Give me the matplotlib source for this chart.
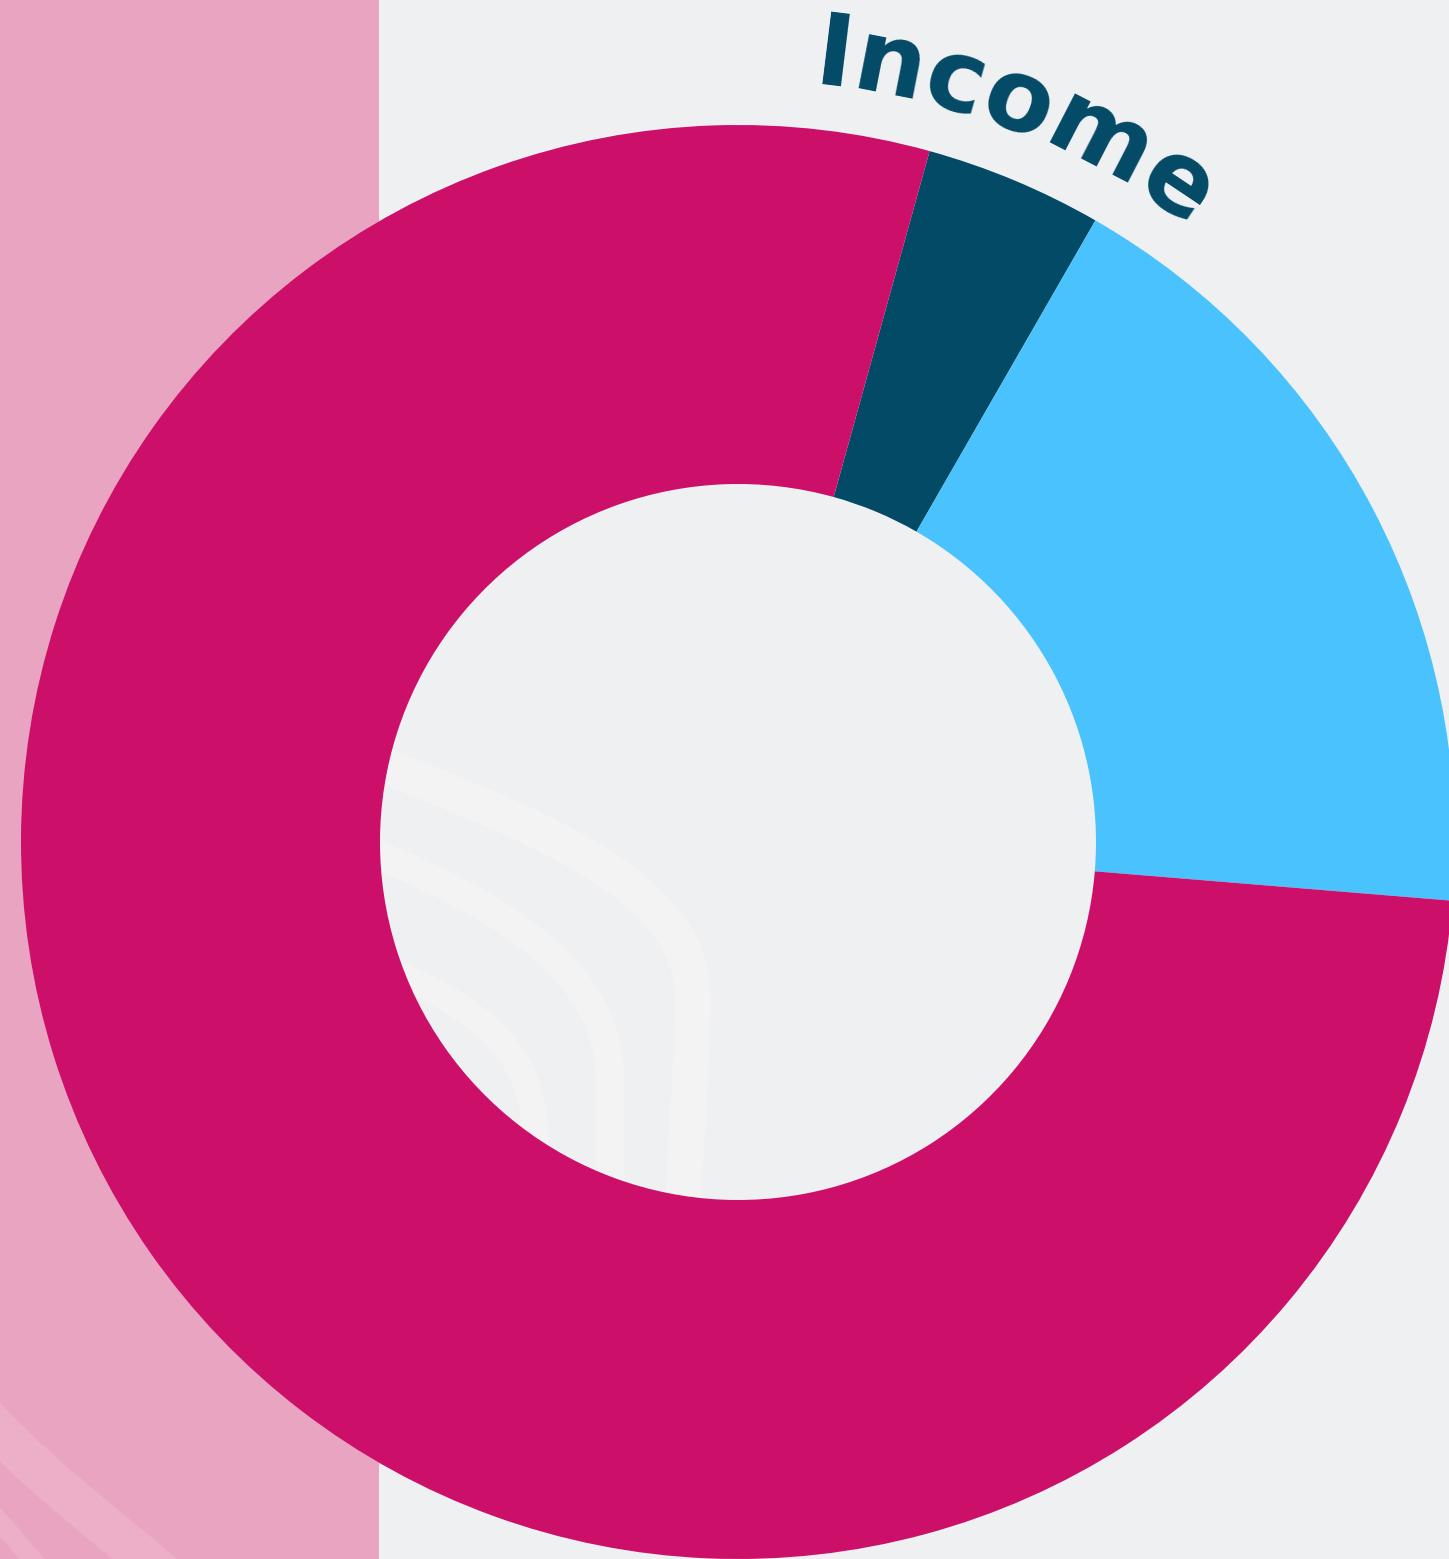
import numpy as np
import matplotlib
matplotlib.use("Agg")
import matplotlib.pyplot as plt
from matplotlib.patches import Rectangle, PathPatch
from matplotlib.path import Path

# data
categories = ["Income", "", ""]
shares = [4, 18, 78]
colors = ["#034a66", "#49c2fd", "#cc106a"]
label_shown = [True, False, False]

W, H = 1449, 1559
fig = plt.figure(figsize=(W / 100, H / 100), dpi=100)
fig.patch.set_facecolor("#eff0f2")
ax = fig.add_axes([0, 0, 1, 1])
ax.set_xlim(0, W)
ax.set_ylim(0, H)
ax.set_aspect("equal")
ax.axis("off")

cx, cy = 738, 717
R = 717
ring = 359

# pink side panel
ax.add_patch(Rectangle((0, 0), 379, H, color="#e8a4c0", zorder=0, lw=0))

# faint decorative swooshes
def swoosh(pts, lw, col):
    verts = [(x, H - y) for x, y in pts]
    codes = [Path.MOVETO] + [Path.CURVE4] * (len(verts) - 1)
    ax.add_patch(PathPatch(Path(verts, codes), fill=False, lw=lw,
                           edgecolor=col, zorder=1, capstyle="butt"))

swoosh([(300, 735), (560, 830), (700, 890), (693, 1010),
        (690, 1100), (685, 1160), (680, 1250)], 26, "#f3f3f3")
swoosh([(300, 825), (480, 890), (610, 960), (610, 1080),
        (610, 1130), (610, 1160), (610, 1250)], 21, "#f3f3f3")
swoosh([(320, 945), (450, 990), (530, 1030), (535, 1130),
        (537, 1170), (537, 1200), (540, 1250)], 19, "#f3f3f3")
swoosh([(-40, 1390), (30, 1470), (100, 1520), (170, 1580)], 30, "#ecafc7")
swoosh([(-30, 1490), (0, 1520), (20, 1545), (45, 1575)], 14, "#ecafc7")

start = 90 - 15.5
wedges, _ = ax.pie(shares, colors=colors, startangle=start, counterclock=False,
                   radius=R, center=(cx, cy), frame=True,
                   wedgeprops=dict(width=ring, linewidth=0, zorder=2))
ax.set_xlim(0, W)
ax.set_ylim(0, H)
ax.axis("off")

# curved label along the arc
fig.canvas.draw()
renderer = fig.canvas.get_renderer()
r_base = 761
fs = 72
for w, name, show in zip(wedges, categories, label_shown):
    if not show:
        continue
    mid = np.deg2rad(90 - (w.theta1 + w.theta2) / 2)
    widths = []
    for ch in name:
        t = ax.text(0, 0, ch, fontsize=fs, fontweight="heavy", family="DejaVu Sans")
        widths.append(t.get_window_extent(renderer).width)
        t.remove()
    total = sum(widths)
    theta = mid - 0.5 * total / r_base - 0.03
    for ch, cw in zip(name, widths):
        a = theta + 0.5 * cw / r_base
        x = cx + r_base * np.sin(a)
        y = cy + r_base * np.cos(a)
        ax.text(x, y, ch, fontsize=fs, fontweight="heavy", family="DejaVu Sans",
                color="#034a66", ha="center", va="baseline",
                rotation=-np.rad2deg(a), rotation_mode="anchor", zorder=5)
        theta += cw / r_base

fig.savefig("out.png", dpi=100, facecolor=fig.get_facecolor())
